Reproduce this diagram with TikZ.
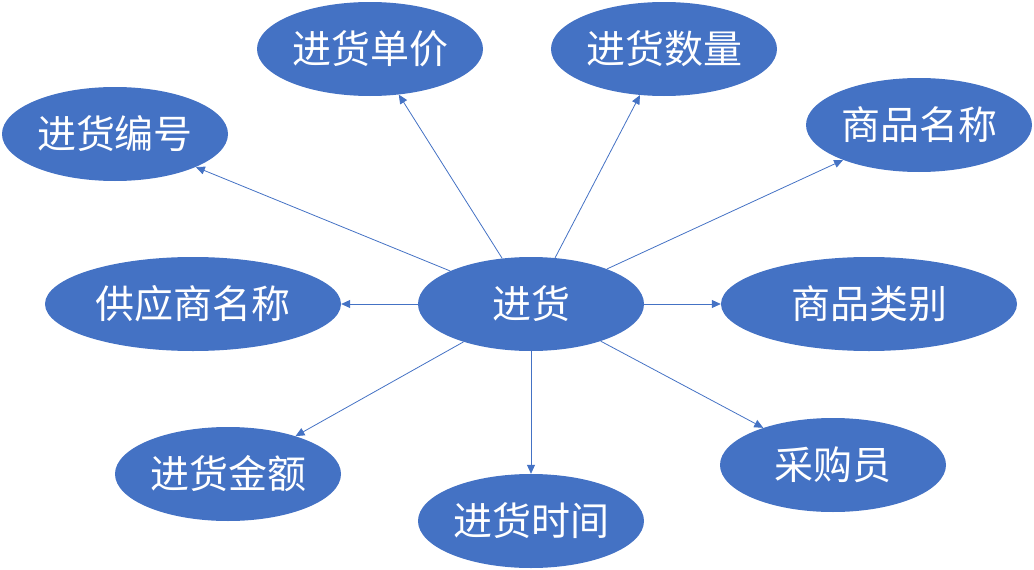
\documentclass[tikz,border=0pt]{standalone}
\usepackage{fontspec}
\setmainfont{Noto Sans CJK SC}
\usepackage{xcolor}
\usetikzlibrary{arrows.meta,shapes}
\definecolor{officeblue}{HTML}{4472C4}
\tikzset{attr/.style={ellipse,fill=officeblue,text=white,minimum width=226pt,minimum height=94pt,inner sep=0pt,font=\fontsize{39}{39}\selectfont},
wideattr/.style={attr,minimum width=296pt}}

\begin{document}
\begin{tikzpicture}[x=1pt,y=-1pt,>={Triangle[length=9pt,width=8pt]}]
\useasboundingbox(0,0)rectangle(1034,570);
\node[attr](jh)at(531,304){进货};
\node[attr](bh)at(115,134){进货编号};
\node[attr](dj)at(370,49){进货单价};
\node[attr](sl)at(664,49){进货数量};
\node[attr](mc)at(919,125){商品名称};
\node[wideattr](gys)at(193,304){供应商名称};
\node[wideattr](lb)at(869,304){商品类别};
\node[attr](je)at(228,474){进货金额};
\node[attr](sj)at(531,521){进货时间};
\node[attr](cgy)at(833,465){采购员};
\foreach \n in {bh,dj,sl,mc,gys,lb,je,sj,cgy}
\draw[->,officeblue,line width=0.8pt](jh)--(\n);
\end{tikzpicture}
\end{document}
